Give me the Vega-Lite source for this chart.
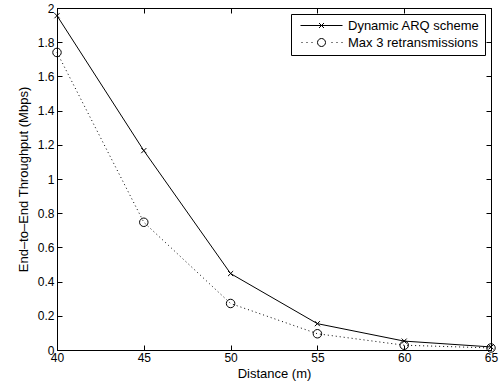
{
  "$schema": "https://vega.github.io/schema/vega-lite/v6.json",
  "autosize": {"type": "none"},
  "padding": {"left": 57, "top": 8, "right": 8, "bottom": 40},
  "width": 434,
  "height": 342,
  "background": "white",
  "config": {
    "view": {"stroke": "black", "strokeWidth": 1},
    "font": "Liberation Sans",
    "axis": {
      "labelFont": "Liberation Sans",
      "titleFont": "Liberation Sans",
      "labelFontSize": 12,
      "titleFontSize": 13,
      "titleFontWeight": "normal",
      "labelColor": "black",
      "titleColor": "black",
      "domainColor": "black",
      "tickColor": "black",
      "tickSize": -5,
      "grid": false,
      "labelFlush": false
    },
    "legend": {
      "labelFont": "Liberation Sans",
      "labelFontSize": 13,
      "labelColor": "black"
    }
  },
  "data": {
    "values": [
      {"d": 40, "t": 1.955, "s": "Dynamic ARQ scheme"},
      {"d": 45, "t": 1.166, "s": "Dynamic ARQ scheme"},
      {"d": 50, "t": 0.447, "s": "Dynamic ARQ scheme"},
      {"d": 55, "t": 0.154, "s": "Dynamic ARQ scheme"},
      {"d": 60, "t": 0.052, "s": "Dynamic ARQ scheme"},
      {"d": 65, "t": 0.018, "s": "Dynamic ARQ scheme"},
      {"d": 40, "t": 1.74, "s": "Max 3 retransmissions"},
      {"d": 45, "t": 0.747, "s": "Max 3 retransmissions"},
      {"d": 50, "t": 0.272, "s": "Max 3 retransmissions"},
      {"d": 55, "t": 0.095, "s": "Max 3 retransmissions"},
      {"d": 60, "t": 0.028, "s": "Max 3 retransmissions"},
      {"d": 65, "t": 0.012, "s": "Max 3 retransmissions"}
    ]
  },
  "layer": [
    {
      "transform": [{"filter": "datum.s === 'Dynamic ARQ scheme'"}],
      "mark": {"type": "line", "strokeWidth": 1},
      "encoding": {
        "x": {
          "field": "d", "type": "quantitative",
          "scale": {"domain": [40, 65], "nice": false},
          "axis": {"values": [40, 45, 50, 55, 60, 65], "title": "Distance (m)", "labelPadding": 7, "titlePadding": 4}
        },
        "y": {
          "field": "t", "type": "quantitative",
          "scale": {"domain": [0, 2], "nice": false},
          "axis": {"values": [0, 0.2, 0.4, 0.6, 0.8, 1, 1.2, 1.4, 1.6, 1.8, 2], "format": "~g", "title": "End–to–End Throughput (Mbps)", "labelPadding": 8, "titlePadding": 7}
        },
        "color": {
          "field": "s", "type": "nominal",
          "scale": {"domain": ["Dynamic ARQ scheme", "Max 3 retransmissions"], "range": ["black", "black"]},
          "legend": {
            "title": null,
            "orient": "top-right",
            "offset": 6,
            "strokeColor": "black",
            "fillColor": "white",
            "padding": 5,
            "symbolOffset": 3,
            "symbolSize": 100,
            "labelOffset": 36,
            "rowPadding": 3,
            "symbolStrokeWidth": 1,
            "symbolFillColor": "transparent",
            "encode": {
              "symbols": {
                "update": {
                  "shape": {"signal": "datum.value === 'Dynamic ARQ scheme' ? 'M-1,0H7.4M2.7,-0.5L3.7,0.5M2.7,0.5L3.7,-0.5' : 'M-0.8,0h0.2M0.2,0h0.2M1.2,0h0.2M5.2,0h0.2M6.2,0h0.2M7.2,0h0.2M4,0A0.8,0.8 0 1,1 2.4,0A0.8,0.8 0 1,1 4,0'"},
                  "stroke": {"value": "black"},
                  "fill": {"value": "transparent"},
                  "strokeWidth": {"value": 1}
                }
              }
            }
          }
        }
      }
    },
    {
      "transform": [{"filter": "datum.s === 'Max 3 retransmissions'"}],
      "mark": {"type": "line", "strokeWidth": 1, "strokeDash": [1, 3]},
      "encoding": {
        "x": {"field": "d", "type": "quantitative", "axis": null},
        "y": {"field": "t", "type": "quantitative", "axis": null},
        "color": {"field": "s", "type": "nominal"}
      }
    },
    {
      "transform": [{"filter": "datum.s === 'Dynamic ARQ scheme'"}],
      "mark": {"type": "point", "filled": false, "stroke": "black", "strokeWidth": 1, "opacity": 1, "size": 72, "shape": "M-0.6,-0.6L0.6,0.6M-0.6,0.6L0.6,-0.6"},
      "encoding": {
        "x": {"field": "d", "type": "quantitative", "axis": null},
        "y": {"field": "t", "type": "quantitative", "axis": null}
      }
    },
    {
      "transform": [{"filter": "datum.s === 'Max 3 retransmissions'"}],
      "mark": {"type": "point", "filled": false, "stroke": "black", "strokeWidth": 1, "opacity": 1, "size": 72, "shape": "circle"},
      "encoding": {
        "x": {
          "field": "d", "type": "quantitative",
          "axis": {"orient": "top", "labels": false, "title": null, "values": [40, 45, 50, 55, 60, 65]}
        },
        "y": {
          "field": "t", "type": "quantitative",
          "axis": {"orient": "right", "labels": false, "title": null, "values": [0, 0.2, 0.4, 0.6, 0.8, 1, 1.2, 1.4, 1.6, 1.8, 2]}
        }
      }
    }
  ],
  "resolve": {"axis": {"x": "independent", "y": "independent"}}
}
